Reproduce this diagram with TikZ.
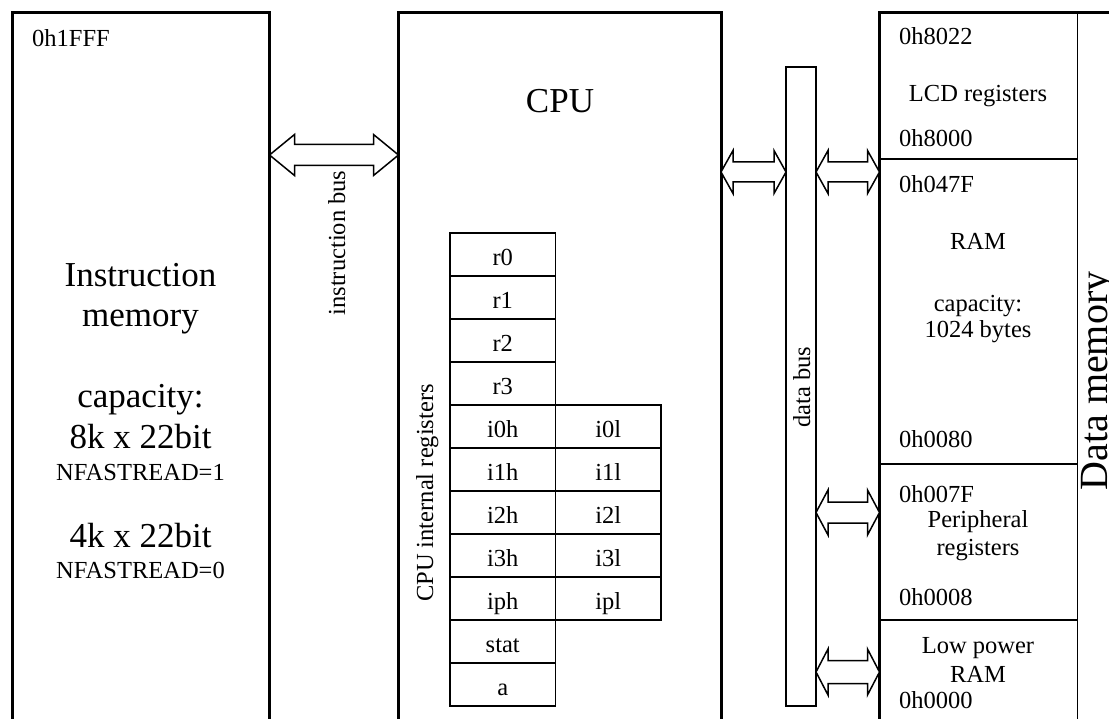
\documentclass[tikz,border=0pt]{standalone}
\usepackage{fontspec}
\setmainfont{Liberation Serif}
\usetikzlibrary{calc}
\newcommand{\dblarrow}[5]{%
  \draw[busarrow] (#1) -- ($(#1)+(#5,-#4)$) -- ($(#1)+(#5,-#3)$) -- ($(#2)+(-#5,-#3)$) -- ($(#2)+(-#5,-#4)$) -- (#2)
    -- ($(#2)+(-#5,#4)$) -- ($(#2)+(-#5,#3)$) -- ($(#1)+(#5,#3)$) -- ($(#1)+(#5,#4)$) -- cycle;}
\begin{document}
\begin{tikzpicture}[x=1pt,y=-1pt,
  bigbox/.style={draw, line width=3pt, rectangle, inner sep=0pt, outer sep=0pt, anchor=north west},
  thinbox/.style={draw, line width=1.5pt, rectangle, inner sep=0pt, outer sep=0pt, anchor=north west},
  reg/.style={draw, line width=1.5pt, rectangle, inner sep=0pt, outer sep=0pt, anchor=north west,
    minimum width=105.5pt, minimum height=43pt, text height=22pt, text depth=0pt,
    font=\fontsize{24.5}{28}\selectfont},
  small/.style={inner sep=0pt, font=\fontsize{24.5}{28}\selectfont},
  large/.style={inner sep=0pt, font=\fontsize{35}{40}\selectfont},
  busarrow/.style={draw, line width=1.5pt, line join=miter, fill=white}]
\useasboundingbox (0,0) rectangle (1109,719);
\clip (0,0) rectangle (1109,719);

% main blocks
\node[bigbox, minimum width=257.5pt, minimum height=740pt] (imem) at (12,12.5) {};
\node[bigbox, minimum width=322.5pt, minimum height=740pt] (cpu) at (398.5,12.5) {};
\node[thinbox, minimum width=30pt, minimum height=639pt] (dbus) at (786,67) {};

% data memory sections
\node[thinbox, minimum width=198pt, minimum height=146.5pt] (lcd) at (879.5,12.5) {};
\node[thinbox, minimum width=198pt, minimum height=305pt] (ram) at (879.5,159) {};
\node[thinbox, minimum width=198pt, minimum height=156pt] (periph) at (879.5,464) {};
\node[thinbox, minimum width=198pt, minimum height=130pt] (lpram) at (879.5,620) {};
\draw[line width=3pt] (lpram.south west) -- (lcd.north west) -- (1115,12.5);

% instruction memory texts
\node[small, anchor=base west] (ia) at (32,47) {0h1FFF};
\node[large, anchor=base] (t1) at (140.5,287) {Instruction};
\node[large, anchor=base] (t2) at (140.5,327) {memory};
\node[large, anchor=base] (t3) at (140.5,407) {capacity:};
\node[large, anchor=base] (t4) at (140.5,448) {8k x 22bit};
\node[small, anchor=base] (t5) at (140.5,480) {NFASTREAD=1};
\node[large, anchor=base] (t6) at (140.5,547) {4k x 22bit};
\node[small, anchor=base] (t7) at (140.5,578) {NFASTREAD=0};

% CPU
\node[large, anchor=base] (cpulbl) at (560,113) {CPU};
\node[small, rotate=90, anchor=base] (cirl) at (433,493) {CPU internal registers};
\foreach \t [count=\k from 0] in {r0,r1,r2,r3,i0h,i1h,i2h,i3h,iph,stat,a}
  \node[reg] (reg\k) at (450,233+43*\k) {\t};
\foreach \t [count=\k from 4] in {i0l,i1l,i2l,i3l,ipl}
  \node[reg] (regl\k) at (555.5,233+43*\k) {\t};

% bus labels
\node[small, rotate=90, anchor=base] (iblbl) at (345,243) {instruction bus};
\node[small, rotate=90, anchor=base] (dblbl) at (810,387) {data bus};
\node[inner sep=0pt, font=\fontsize{40}{44}\selectfont, rotate=90, anchor=base] (dmlbl) at (1107,381) {Data memory};

% data memory texts
\node[small, anchor=base west] at (899,45) {0h8022};
\node[small, anchor=base] at (978,102) {LCD registers};
\node[small, anchor=base west] at (899,147) {0h8000};
\node[small, anchor=base west] at (899,193) {0h047F};
\node[small, anchor=base] at (978,250) {RAM};
\node[small, anchor=base] at (978,312) {capacity:};
\node[small, anchor=base] at (978,338) {1024 bytes};
\node[small, anchor=base west] at (899,447) {0h0080};
\node[small, anchor=base west] at (899,502) {0h007F};
\node[small, anchor=base] at (978,527) {Peripheral};
\node[small, anchor=base] at (978,555) {registers};
\node[small, anchor=base west] at (899,605) {0h0008};
\node[small, anchor=base] at (978,653) {Low power};
\node[small, anchor=base] at (978,682) {RAM};
\node[small, anchor=base west] at (899,708) {0h0000};

% bus arrows
\coordinate (ibL) at (imem.east |- 0,155);
\coordinate (ibR) at (cpu.west |- 0,155);
\dblarrow{ibL}{ibR}{10.5}{20.5}{25}
\coordinate (cdL) at (cpu.east |- 0,172);
\coordinate (cdR) at (dbus.west |- 0,172);
\dblarrow{cdL}{cdR}{10}{21.5}{12}
\coordinate (dmL) at (dbus.east |- 0,172);
\coordinate (dmR) at (lcd.south west |- 0,172);
\dblarrow{dmL}{dmR}{10}{21.5}{12}
\coordinate (dpL) at (dbus.east |- 0,512.5);
\coordinate (dpR) at (periph.west |- 0,512.5);
\dblarrow{dpL}{dpR}{10.5}{22.5}{12}
\coordinate (dlL) at (dbus.east |- 0,672);
\coordinate (dlR) at (lpram.west |- 0,672);
\dblarrow{dlL}{dlR}{11.5}{23}{12}
\end{tikzpicture}
\end{document}
